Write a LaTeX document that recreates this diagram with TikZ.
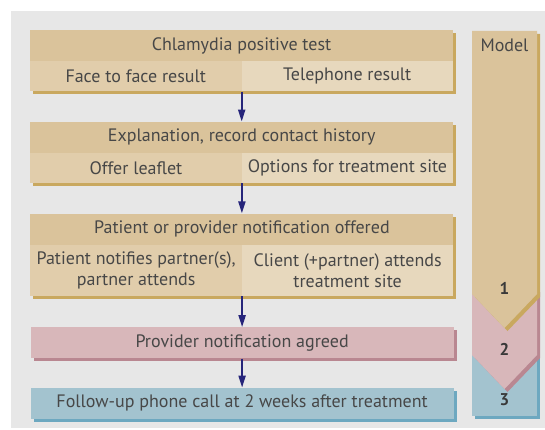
\documentclass[tikz,border=0pt]{standalone}
\usepackage{fontspec}
\setmainfont{PT Sans}
\usetikzlibrary{arrows.meta,positioning,shadows}

\definecolor{panel}{HTML}{E7E7E7}
\definecolor{ink}{HTML}{474747}
\definecolor{tanhead}{HTML}{DAC39B}
\definecolor{tanleft}{HTML}{E1CDAB}
\definecolor{tanright}{HTML}{E7D8BD}
\definecolor{tanshade}{HTML}{C9A85F}
\definecolor{rose}{HTML}{D8B7BA}
\definecolor{roseshade}{HTML}{B98791}
\definecolor{sky}{HTML}{A3C3CF}
\definecolor{skyshade}{HTML}{6DA8C0}
\definecolor{navy}{HTML}{26257A}

\begin{document}
\begin{tikzpicture}[
  x=1pt, y=1pt,
  font=\fontsize{18}{21}\selectfont, text=ink,
  stage/.style={inner sep=0pt, align=center, minimum height=31pt},
  tanshadow/.style={drop shadow={shadow xshift=3pt,shadow yshift=-3pt,fill=tanshade,opacity=1}},
  head/.style={stage, tanshadow, fill=tanhead, minimum width=423pt},
  cella/.style={stage, tanshadow, fill=tanleft, minimum width=211.5pt, minimum height=30pt},
  cellb/.style={stage, tanshadow, fill=tanright, minimum width=211.5pt, minimum height=30pt},
  tall/.style={minimum height=51pt},
  pinkbox/.style={stage, fill=rose, minimum width=423pt,
    drop shadow={shadow xshift=3pt,shadow yshift=-3pt,fill=roseshade,opacity=1}},
  bluebox/.style={stage, fill=sky, minimum width=423pt,
    drop shadow={shadow xshift=3pt,shadow yshift=-3pt,fill=skyshade,opacity=1}},
  flow/.style={navy, line width=2pt, -{Triangle[length=12pt,width=7pt]}},
  num/.style={font=\fontsize{17}{20}\selectfont\bfseries, text=ink!80!black}
]
  \useasboundingbox (0,0) rectangle (545,429);
  \fill[panel] (10.5,1) rectangle (545,418);

  % flow chart
  \node[head] (chl) at (241.5,383.5) {Chlamydia positive test};
  \node[cella, anchor=north west] (face) at (chl.south west) {Face to face result};
  \node[cellb, anchor=north east] (tel) at (chl.south east) {Telephone result};

  \node[head, below=30pt of face.south east] (expl) {Explanation, record contact history};
  \node[cella, anchor=north west] (leaf) at (expl.south west) {Offer leaflet};
  \node[cellb, anchor=north east] (opt) at (expl.south east) {Options for treatment site};

  \node[head, below=30pt of leaf.south east] (offer) {Patient or provider notification offered};
  \node[cella, tall, anchor=north west] (pat) at (offer.south west) {Patient notifies partner(s),\\partner attends};
  \node[cellb, tall, anchor=north east] (cli) at (offer.south east) {Client (+partner) attends\\treatment site};

  \node[pinkbox, below=31pt of pat.south east] (agreed) {Provider notification agreed};
  \node[bluebox, below=29pt of agreed] (follow) {Follow-up phone call at 2 weeks after treatment};

  \draw[flow] (face.south east) -- (expl.north);
  \draw[flow] (leaf.south east) -- (offer.north);
  \draw[flow] (pat.south east) -- (agreed.north);
  \draw[flow] (agreed) -- (follow);

  % model column, drawn bottom up
  \fill[sky, drop shadow={shadow xshift=3pt,shadow yshift=-3pt,fill=skyshade,opacity=1}]
    (472,80) rectangle (537,13);
  \fill[rose, drop shadow={shadow xshift=3pt,shadow yshift=-3pt,fill=roseshade,opacity=1}]
    (472,140) -- (537,140) -- (537,74) -- (504.5,40) -- (472,74) -- cycle;
  \fill[tanhead, tanshadow]
    (472,398) -- (537,398) -- (537,135) -- (504.5,101) -- (472,135) -- cycle;

  \node (model) at (504.5,384) {Model};
  \node[num] (m1) at (504.5,141) {1};
  \node[num] (m2) at (504.5,80) {2};
  \node[num] (m3) at (504.5,29) {3};
\end{tikzpicture}
\end{document}
